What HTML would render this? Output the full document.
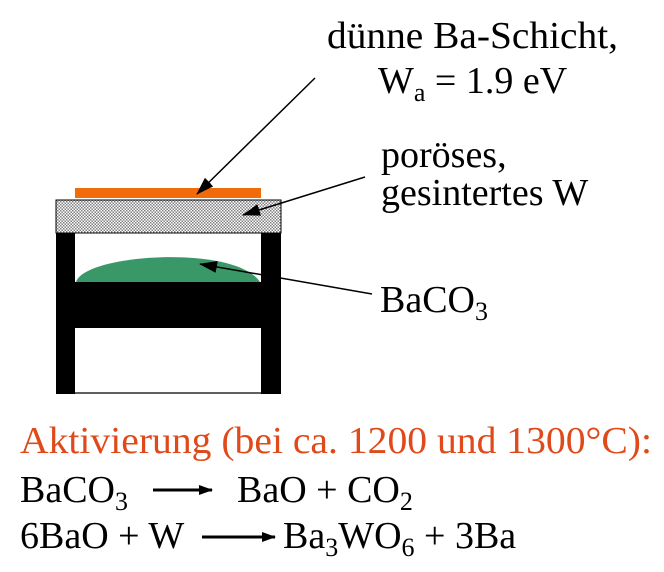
<!DOCTYPE html>
<html><head><meta charset="utf-8"><style>
html,body{margin:0;padding:0;background:#fff;}
svg{display:block;font-family:"Liberation Serif","DejaVu Serif","Times New Roman",serif;}
svg text, svg tspan{font-family:"Liberation Serif","DejaVu Serif","Times New Roman",serif !important;}
</style></head><body>
<svg width="664" height="572" viewBox="0 0 664 572">
<defs>
<pattern id="hatch" width="3" height="3" patternUnits="userSpaceOnUse">
<rect width="3" height="3" fill="#fff"/>
<rect x="0" y="0" width="1.5" height="1.5" fill="#808080"/>
<rect x="1.5" y="1.5" width="1.5" height="1.5" fill="#808080"/>
</pattern>
<marker id="ah" markerWidth="14" markerHeight="10" refX="13" refY="5" orient="auto" markerUnits="userSpaceOnUse">
<path d="M0,0 L14,5 L0,10 Z" fill="#000"/>
</marker>
<marker id="ah2" markerWidth="18" markerHeight="12" refX="17" refY="6" orient="auto" markerUnits="userSpaceOnUse">
<path d="M0,0 L18,6 L0,12 Z" fill="#000"/>
</marker>
</defs>

<g>
<rect x="75" y="188" width="186" height="10" fill="#f26b0a"/>
<rect x="56" y="200" width="225" height="33" fill="url(#hatch)" stroke="#000" stroke-width="1"/>
<rect x="56" y="233" width="19" height="161" fill="#000"/>
<rect x="261" y="233" width="20" height="161" fill="#000"/>
<rect x="56" y="282" width="225" height="46" fill="#000"/>
<line x1="75" y1="393" x2="261" y2="393" stroke="#000" stroke-width="1.2"/>
<path d="M76,282 C84,254 235,244 260,282 Z" fill="#3a9868"/>
</g>

<g stroke="#000" stroke-width="1.5" fill="none">
<line x1="315" y1="78" x2="197" y2="194" marker-end="url(#ah2)"/>
<line x1="365" y1="177" x2="243" y2="215" marker-end="url(#ah2)"/>
<line x1="372" y1="294" x2="200" y2="264" marker-end="url(#ah2)"/>
</g>

<g font-size="38" fill="#000">
<text x="327" y="48" textLength="291" lengthAdjust="spacingAndGlyphs">dünne Ba-Schicht,</text>
<text x="378" y="93">W<tspan font-size="26" dy="8">a</tspan><tspan dy="-8"> = 1.9 eV</tspan></text>
<text x="381" y="167">poröses,</text>
<text x="381" y="205">gesintertes W</text>
<text x="380" y="312">BaCO<tspan font-size="26" dy="8">3</tspan></text>
</g>

<text x="20" y="453" font-size="38" fill="#e04a1a" textLength="632" lengthAdjust="spacingAndGlyphs">Aktivierung (bei ca. 1200 und 1300°C):</text>

<g font-size="38" fill="#000">
<text x="20" y="502">BaCO<tspan font-size="26" dy="8">3</tspan></text>
<line x1="153" y1="490" x2="212" y2="490" stroke="#000" stroke-width="3" marker-end="url(#ah)"/>
<text x="237" y="502">BaO + CO<tspan font-size="26" dy="8">2</tspan></text>
<text x="20" y="548">6BaO + W</text>
<line x1="202" y1="537" x2="275" y2="537" stroke="#000" stroke-width="3" marker-end="url(#ah)"/>
<text x="283" y="548">Ba<tspan font-size="26" dy="8">3</tspan><tspan dy="-8">WO</tspan><tspan font-size="26" dy="8">6</tspan><tspan dy="-8"> + 3Ba</tspan></text>
</g>
</svg>
</body></html>
